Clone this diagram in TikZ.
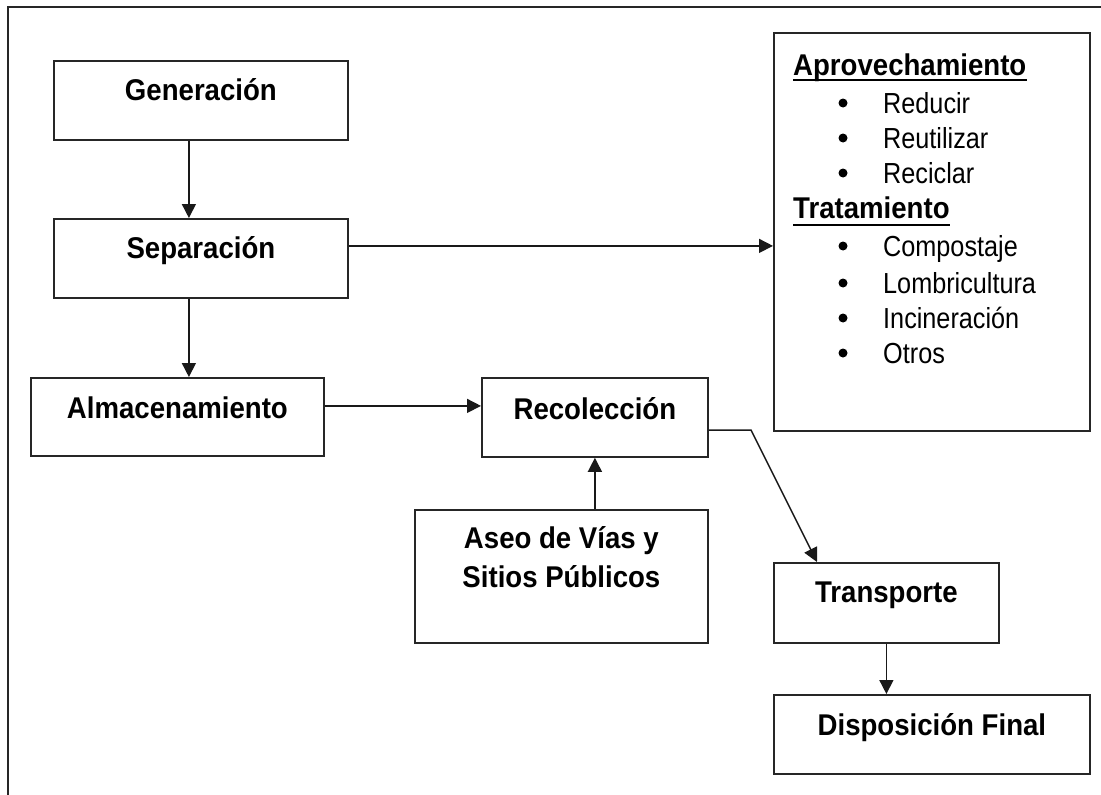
\documentclass[tikz,border=0pt]{standalone}
\usepackage{fontspec}
\setmainfont{Liberation Sans}
\newfontfamily\boxfont{Liberation Sans Bold}[FakeStretch=0.92]
\newfontfamily\listfont{Liberation Sans}[FakeStretch=0.87]
\usetikzlibrary{arrows.meta}
\begin{document}
\begin{tikzpicture}[x=1pt,y=-1pt,
  box/.style={draw=black!85,line width=1.8pt,inner sep=0pt,anchor=north west},
  lbl/.style={inner sep=0pt,anchor=base,font=\boxfont\fontsize{30}{36}\selectfont},
  head/.style={inner sep=0pt,anchor=base west,font=\boxfont\fontsize{30}{36}\selectfont},
  item/.style={inner sep=0pt,anchor=base west,font=\listfont\fontsize{29}{34}\selectfont},
  arr/.style={draw=black!90,line width=1.5pt,-{Triangle[length=14pt,width=14pt]}},
  frame/.style={draw=black!85,line width=2pt}]
\useasboundingbox (0,0) rectangle (1101,795);
% outer frame (top and left sides)
\draw[frame] (8,795) -- (8,7) -- (1101,7);
% boxes
\node[box,minimum width=294pt,minimum height=79pt] (gen) at (53,60) {};
\node[lbl] (genT) at ([yshift=-40pt]gen.north) {Generación};
\node[box,minimum width=294pt,minimum height=79pt] (sep) at (53,218) {};
\node[lbl] (sepT) at ([yshift=-40pt]sep.north) {Separación};
\node[box,minimum width=293pt,minimum height=78pt] (alm) at (30,377) {};
\node[lbl] (almT) at ([yshift=-41pt]alm.north) {Almacenamiento};
\node[box,minimum width=226pt,minimum height=79pt] (rec) at (481,377) {};
\node[lbl] (recT) at ([yshift=-42pt]rec.north) {Recolección};
\node[box,minimum width=293pt,minimum height=133pt] (aseo) at (414,509) {};
\node[lbl] (aseoT1) at ([yshift=-39pt]aseo.north) {Aseo de Vías y};
\node[lbl] (aseoT2) at ([yshift=-78pt]aseo.north) {Sitios Públicos};
\node[box,minimum width=225pt,minimum height=80pt] (trans) at (773,562) {};
\node[lbl] (transT) at ([yshift=-40pt]trans.north) {Transporte};
\node[box,minimum width=316pt,minimum height=79pt] (disp) at (773,694) {};
\node[lbl] (dispT) at ([yshift=-41pt]disp.north) {Disposición Final};
\node[box,minimum width=316pt,minimum height=398pt] (big) at (773,32) {};
% headings
\node[head] (ap) at (793,75) {Aprovechamiento};
\draw[line width=2pt] ([yshift=-5pt]ap.base west) -- ([yshift=-5pt]ap.base east);
\node[head] (tr) at (793,218) {Tratamiento};
\draw[line width=2pt] ([yshift=-7pt]tr.base west) -- ([yshift=-7pt]tr.base east);
% list items
\foreach \t/\yy [count=\i] in {Reducir/113,Reutilizar/148,Reciclar/183,Compostaje/256,Lombricultura/293,Incineración/328,Otros/363}{
  \node[item] (it\i) at (883,\yy) {\t};
  \fill (843,\yy-10) circle (4.5pt);
}
% connectors
\draw[arr] ([xshift=-12pt]gen.south) -- ([xshift=-12pt]gen.south |- sep.north);
\draw[arr] ([xshift=-12pt]sep.south) -- ([xshift=-12pt]sep.south |- alm.north);
\draw[arr] ([yshift=12.5pt]sep.east) -- ([yshift=12.5pt]sep.east -| big.west);
\draw[arr] ([yshift=11pt]alm.east) -- ([yshift=11pt]alm.east -| rec.west);
\draw[arr] (rec.south |- aseo.north) -- (rec.south);
\coordinate (bend) at (751,430);
\draw[arr] (rec.east |- bend) -- (bend) -- ([xshift=44pt]trans.north west);
\draw[arr] (trans.south) -- (trans.south |- disp.north);
\end{tikzpicture}
\end{document}
